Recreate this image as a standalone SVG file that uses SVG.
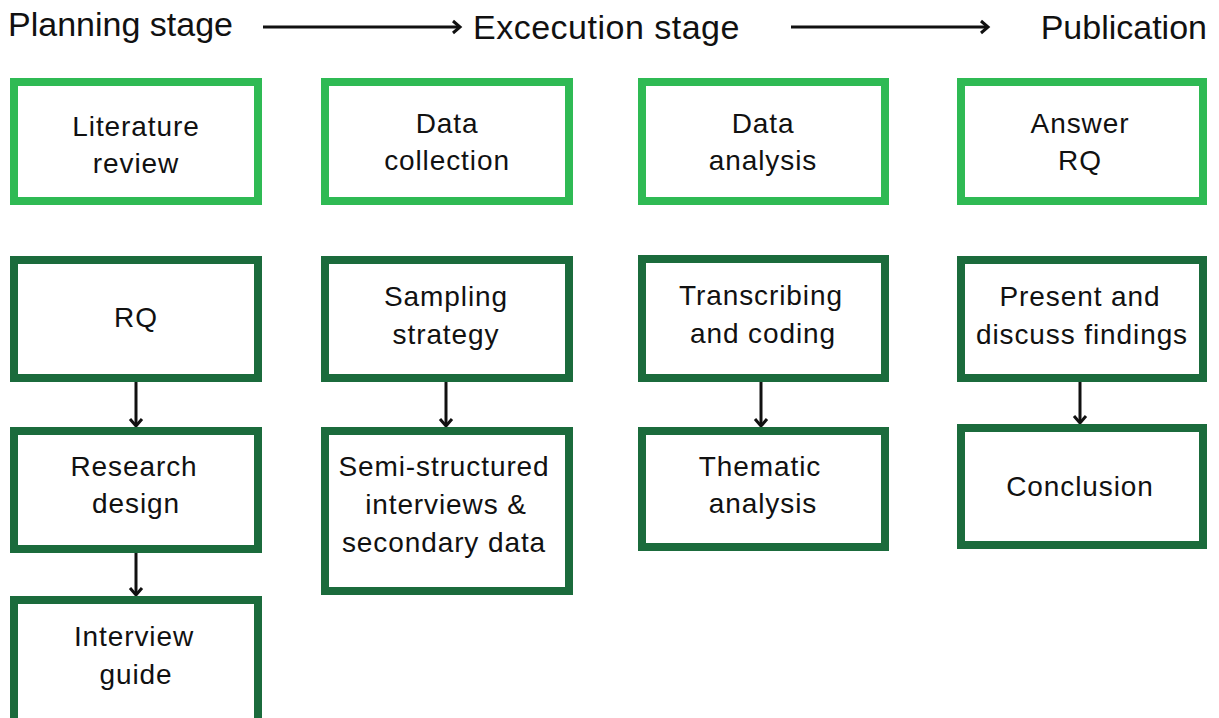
<svg xmlns="http://www.w3.org/2000/svg" width="1219" height="718" viewBox="0 0 1219 718">
<style>
.bg{fill:#ffffff}
.light{fill:#ffffff;stroke:#2fba54;stroke-width:8}
.dark{fill:#ffffff;stroke:#1b6b3c;stroke-width:8}
.lbl{font-family:"Liberation Sans",Arial,sans-serif;font-size:28px;letter-spacing:0.9px;fill:#111111;text-anchor:middle}
.hdr{font-family:"Liberation Sans",Arial,sans-serif;font-size:34px;fill:#111111}
.conn{stroke:#111111;stroke-width:3;fill:none}
</style>
<defs>
<marker id="chev" markerUnits="userSpaceOnUse" markerWidth="16" markerHeight="16" refX="10" refY="8" orient="auto">
<path d="M3,2 L10,8 L3,14" fill="none" stroke="#111111" stroke-width="3"/>
</marker>
</defs>
<rect class="bg" x="0" y="0" width="1219" height="718"/>
<g id="headers">
<text class="hdr" x="8" y="36">Planning stage</text>
<text class="hdr" x="473" y="39" letter-spacing="0.5">Excecution stage</text>
<text class="hdr" x="1207" y="39" text-anchor="end">Publication</text>
</g>
<g id="connectors">
<line class="conn" x1="263" y1="27" x2="460" y2="27" marker-end="url(#chev)"/>
<line class="conn" x1="791" y1="27" x2="988" y2="27" marker-end="url(#chev)"/>
<line class="conn" x1="136" y1="382" x2="136" y2="426" marker-end="url(#chev)"/>
<line class="conn" x1="136" y1="553" x2="136" y2="595" marker-end="url(#chev)"/>
<line class="conn" x1="446" y1="382" x2="446" y2="426" marker-end="url(#chev)"/>
<line class="conn" x1="761" y1="382" x2="761" y2="426" marker-end="url(#chev)"/>
<line class="conn" x1="1080" y1="382" x2="1080" y2="423" marker-end="url(#chev)"/>
</g>
<g id="literature-review">
<rect class="light" x="14" y="82" width="244" height="119"/>
<text class="lbl" x="136" y="136">Literature</text>
<text class="lbl" x="136" y="173">review</text>
</g>
<g id="data-collection">
<rect class="light" x="325" y="82" width="244" height="119"/>
<text class="lbl" x="447" y="133">Data</text>
<text class="lbl" x="447" y="170">collection</text>
</g>
<g id="data-analysis">
<rect class="light" x="642" y="82" width="243" height="119"/>
<text class="lbl" x="763" y="133">Data</text>
<text class="lbl" x="763" y="170">analysis</text>
</g>
<g id="answer-rq">
<rect class="light" x="961" y="82" width="242" height="119"/>
<text class="lbl" x="1080" y="133">Answer</text>
<text class="lbl" x="1080" y="170">RQ</text>
</g>
<g id="rq">
<rect class="dark" x="14" y="260" width="244" height="118"/>
<text class="lbl" x="136" y="327">RQ</text>
</g>
<g id="sampling-strategy">
<rect class="dark" x="325" y="260" width="244" height="118"/>
<text class="lbl" x="446" y="306">Sampling</text>
<text class="lbl" x="446" y="344">strategy</text>
</g>
<g id="transcribing-coding">
<rect class="dark" x="642" y="259" width="243" height="119"/>
<text class="lbl" x="761" y="305">Transcribing</text>
<text class="lbl" x="763" y="343">and coding</text>
</g>
<g id="present-discuss">
<rect class="dark" x="961" y="260" width="242" height="118"/>
<text class="lbl" x="1080" y="306">Present and</text>
<text class="lbl" x="1082" y="344">discuss findings</text>
</g>
<g id="research-design">
<rect class="dark" x="14" y="431" width="244" height="118"/>
<text class="lbl" x="134" y="476">Research</text>
<text class="lbl" x="136" y="513">design</text>
</g>
<g id="semi-structured">
<rect class="dark" x="325" y="431" width="244" height="160"/>
<text class="lbl" x="444" y="476">Semi-structured</text>
<text class="lbl" x="446" y="514">interviews &amp;</text>
<text class="lbl" x="444" y="552">secondary data</text>
</g>
<g id="thematic-analysis">
<rect class="dark" x="642" y="431" width="243" height="116"/>
<text class="lbl" x="760" y="476">Thematic</text>
<text class="lbl" x="763" y="513">analysis</text>
</g>
<g id="conclusion">
<rect class="dark" x="961" y="428" width="242" height="117"/>
<text class="lbl" x="1080" y="496">Conclusion</text>
</g>
<g id="interview-guide">
<rect class="dark" x="14" y="600" width="244" height="122"/>
<text class="lbl" x="134" y="646">Interview</text>
<text class="lbl" x="136" y="684">guide</text>
</g>
</svg>
